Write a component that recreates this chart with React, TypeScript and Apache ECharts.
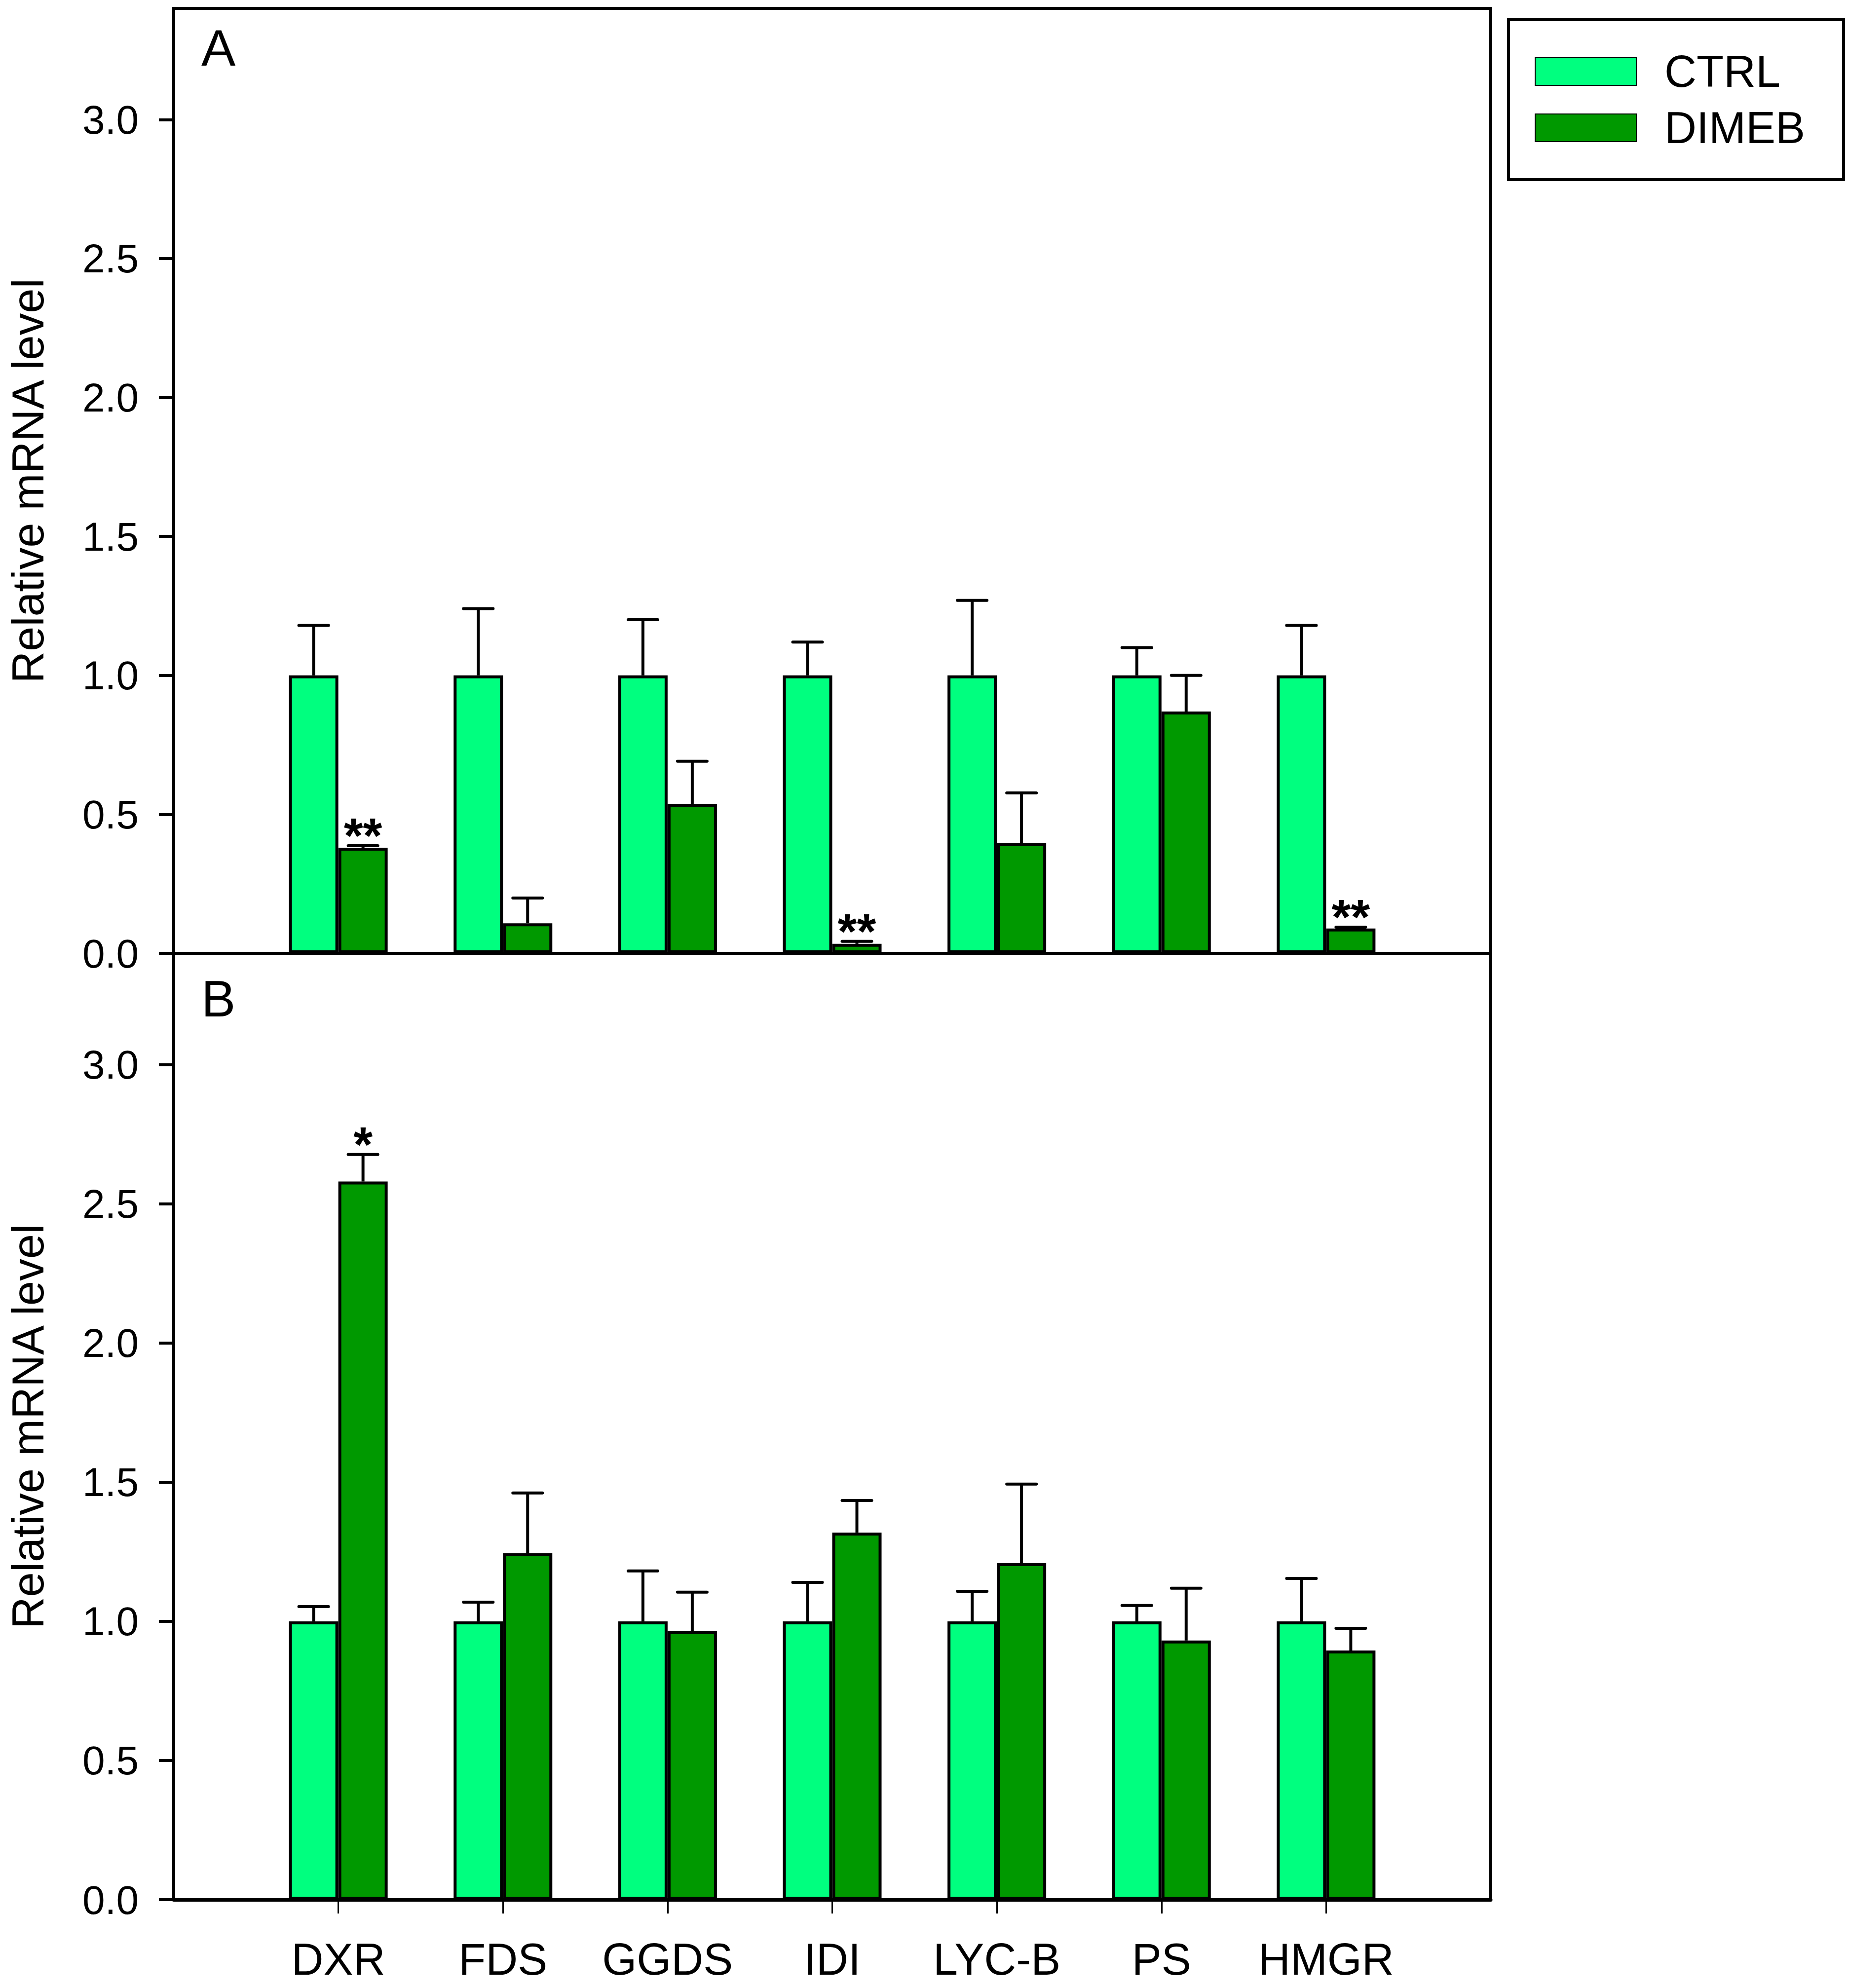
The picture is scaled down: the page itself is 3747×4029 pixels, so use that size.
import React, { useEffect, useRef } from "react";
import * as echarts from "echarts";

// ---------- data ----------
const categories = ["DXR", "FDS", "GGDS", "IDI", "LYC-B", "PS", "HMGR"];
const groupNames = ["CTRL", "DIMEB"];
const yTicks = [0, 0.5, 1.0, 1.5, 2.0, 2.5, 3.0];
const panelLabels = ["A", "B"];
const yTitle = "Relative mRNA level";

// Panel A
const ctrlA = [1, 1, 1, 1, 1, 1, 1];
const ctrlErrA = [0.18, 0.24, 0.2, 0.12, 0.27, 0.1, 0.18];
const dimebA = [0.38, 0.108, 0.538, 0.034, 0.396, 0.87, 0.089];
const dimebErrA = [0.007, 0.091, 0.153, 0.009, 0.181, 0.13, 0.005];
const sigA = ["**", "", "", "**", "", "", "**"];

// Panel B
const ctrlB = [1, 1, 1, 1, 1, 1, 1];
const ctrlErrB = [0.053, 0.069, 0.181, 0.14, 0.108, 0.057, 0.154];
const dimebB = [2.58, 1.245, 0.965, 1.319, 1.209, 0.931, 0.895];
const dimebErrB = [0.097, 0.216, 0.14, 0.115, 0.284, 0.188, 0.08];
const sigB = ["*", "", "", "", "", "", ""];

const panels = [
  { ctrl: ctrlA, ctrlErr: ctrlErrA, dimeb: dimebA, dimebErr: dimebErrA, sig: sigA },
  { ctrl: ctrlB, ctrlErr: ctrlErrB, dimeb: dimebB, dimebErr: dimebErrB, sig: sigB },
];

// ---------- style ----------
const FONT = "'Liberation Sans', Arial, Helvetica, sans-serif";
const CTRL_COLOR = "#00FF7F";
const DIMEB_COLOR = "#009900";
const BAR_W = 100;
const CAP_W = 60;
const LW = 6;
const GRID_LEFT = 352;
const GRID_W = 2669;
const GRID_TOPS = [17, 1932];
const GRID_HS = [1915, 1918];

export default function App() {
  const ref = useRef<HTMLDivElement>(null);

  useEffect(() => {
    if (!ref.current) return;
    const chart = echarts.init(ref.current, undefined, { renderer: "svg" });

    const xData = ["", ...categories, ""];

    const grids: any[] = [];
    const xAxes: any[] = [];
    const yAxes: any[] = [];
    const series: any[] = [];
    const graphics: any[] = [];

    panels.forEach((p, pi) => {
      grids.push({
        left: GRID_LEFT,
        top: GRID_TOPS[pi],
        width: GRID_W,
        height: GRID_HS[pi],
        show: true,
        borderColor: "#000",
        borderWidth: LW,
        backgroundColor: "transparent",
        containLabel: false,
      });
      xAxes.push({
        gridIndex: pi,
        type: "category",
        data: xData,
        boundaryGap: false,
        axisLine: { show: true, lineStyle: { color: "#000", width: pi === 1 ? 7 : LW } },
        axisTick:
          pi === 1
            ? {
                show: true,
                inside: false,
                length: 28,
                interval: (i: number) => i > 0 && i < xData.length - 1,
                lineStyle: { color: "#000", width: 3 },
              }
            : { show: false },
        axisLabel:
          pi === 1
            ? {
                show: true,
                interval: 0,
                fontSize: 90,
                fontFamily: FONT,
                color: "#000",
                margin: 76,
              }
            : { show: false },
        splitLine: { show: false },
      });
      yAxes.push({
        gridIndex: pi,
        type: "value",
        min: 0,
        max: 3.4,
        interval: 0.5,
        axisLine: { show: true, lineStyle: { color: "#000", width: LW } },
        axisTick: {
          show: true,
          inside: false,
          length: 30,
          customValues: yTicks,
          lineStyle: { color: "#000", width: LW },
        },
        axisLabel: {
          show: true,
          customValues: yTicks,
          formatter: (v: number) => v.toFixed(1),
          fontSize: 82,
          fontFamily: FONT,
          color: "#000",
          margin: 71,
        },
        splitLine: { show: false },
        name: yTitle,
        nameLocation: "middle",
        nameRotate: 90,
        nameGap: 250,
        nameTextStyle: { fontSize: 90, fontFamily: FONT, color: "#000" },
      });

      const groups = [
        { name: groupNames[0], vals: p.ctrl, errs: p.ctrlErr, color: CTRL_COLOR, side: -1, sig: null as any },
        { name: groupNames[1], vals: p.dimeb, errs: p.dimebErr, color: DIMEB_COLOR, side: 1, sig: p.sig },
      ];

      groups.forEach((g) => {
        series.push({
          type: "bar",
          name: g.name,
          xAxisIndex: pi,
          yAxisIndex: pi,
          barWidth: BAR_W,
          barGap: "0%",
          data: g.vals.map((v, i) => [i + 1, v]),
          itemStyle: { color: g.color, borderColor: "#000", borderWidth: LW },
          z: 2,
        });
      });

      groups.forEach((g) => {
        const sig = g.sig;
        series.push({
          type: "custom",
          name: g.name + " error",
          xAxisIndex: pi,
          yAxisIndex: pi,
          z: 4,
          data: g.vals.map((v, i) => [i + 1, v, g.errs[i]]),
          encode: { x: 0, y: 1 },
          renderItem: (params: any, api: any) => {
            const x = api.value(0);
            const mean = api.value(1);
            const err = api.value(2);
            const base = api.coord([x, mean]);
            const top = api.coord([x, mean + err]);
            const cx = base[0] + (g.side * BAR_W) / 2;
            const children: any[] = [
              {
                type: "line",
                shape: { x1: cx, y1: base[1], x2: cx, y2: top[1] },
                style: { stroke: "#000", lineWidth: LW },
              },
              {
                type: "line",
                shape: { x1: cx - CAP_W / 2, y1: top[1], x2: cx + CAP_W / 2, y2: top[1] },
                style: { stroke: "#000", lineWidth: LW, lineCap: "round" },
              },
            ];
            const s = sig ? sig[params.dataIndex] : "";
            if (s) {
              children.push({
                type: "text",
                x: cx,
                y: top[1] - 21,
                style: {
                  text: s,
                  fontSize: 100,
                  fontWeight: "bold",
                  fontFamily: FONT,
                  fill: "#000",
                  align: "center",
                  verticalAlign: "middle",
                },
              });
            }
            return { type: "group", children };
          },
        });
      });

      graphics.push({
        type: "text",
        x: 408,
        y: pi === 0 ? 97 : 2024,
        style: {
          text: panelLabels[pi],
          fontSize: 104,
          fontFamily: FONT,
          fill: "#000",
          align: "left",
          verticalAlign: "middle",
        },
      });
    });

    chart.setOption({
      animation: false,
      backgroundColor: "#fff",
      textStyle: { fontFamily: FONT },
      grid: grids,
      xAxis: xAxes,
      yAxis: yAxes,
      series,
      graphic: graphics,
      legend: {
        data: groupNames,
        orient: "vertical",
        left: 3057,
        top: 40,
        padding: [60, 78, 60, 53],
        itemWidth: 205,
        itemHeight: 56,
        itemGap: 24,
        borderColor: "#000",
        borderWidth: LW,
        selectedMode: false,
        icon: "rect",
        textStyle: {
          fontSize: 90,
          fontFamily: FONT,
          color: "#000",
          padding: [0, 0, 0, 52],
        },
      },
    });

    return () => chart.dispose();
  }, []);

  return (
    <div
      ref={ref}
      style={{ position: "absolute", left: 0, top: 0, width: 3747, height: 4029, background: "#fff" }}
    />
  );
}
